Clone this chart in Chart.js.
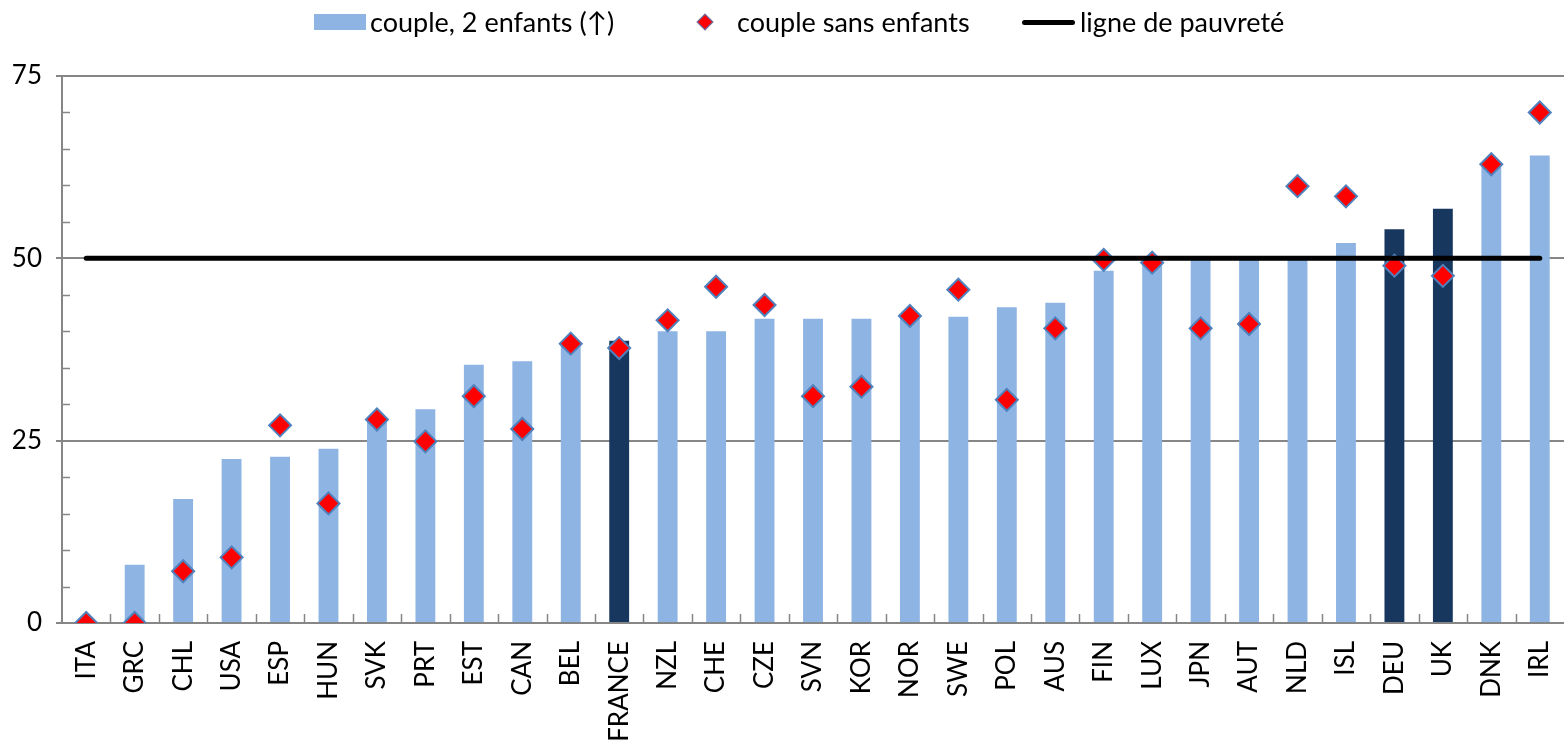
<!DOCTYPE html>
<html>
<head>
<meta charset="utf-8">
<script src="https://cdn.jsdelivr.net/npm/chart.js@4"></script>
<style>
  html, body { margin: 0; padding: 0; background: #fff; }
  #wrap { position: relative; width: 1564px; height: 749px; }
  #legend { position: absolute; top: 0; left: 0; width: 1564px; height: 50px; font-family: Lato, sans-serif; font-size: 27px; color: #000; }
  #legend .item { position: absolute; top: 6px; line-height: 32px; white-space: nowrap; }
  .box { position: absolute; width: 52px; height: 16px; background: #8EB4E3; top: 14px; }
  .dia { position: absolute; width: 10px; height: 10px; background: #FF0000; border: 1.5px solid #4F81BD; transform: rotate(45deg); top: 16px; }
  .ln { position: absolute; width: 53px; height: 5px; background: #000; border-radius: 3px; top: 20px; }
</style>
</head>
<body>
<div id="wrap">
  <canvas id="chart" width="1564" height="749"></canvas>
  <div id="legend">
    <span class="box" style="left:314px"></span>
    <span class="item" style="left:370px">couple, 2 enfants (↑)</span>
    <span class="dia" style="left:699px"></span>
    <span class="item" style="left:737px">couple sans enfants</span>
    <span class="ln" style="left:1022px"></span>
    <span class="item" style="left:1080px">ligne de pauvreté</span>
  </div>
</div>
<script>
const countries = ['ITA', 'GRC', 'CHL', 'USA', 'ESP', 'HUN', 'SVK', 'PRT', 'EST', 'CAN', 'BEL', 'FRANCE', 'NZL', 'CHE', 'CZE', 'SVN', 'KOR', 'NOR', 'SWE', 'POL', 'AUS', 'FIN', 'LUX', 'JPN', 'AUT', 'NLD', 'ISL', 'DEU', 'UK', 'DNK', 'IRL'];
const coupleTwoKids = [0, 8, 17, 22.5, 22.8, 23.9, 28, 29.3, 35.4, 35.9, 38.5, 38.7, 40, 40, 41.7, 41.7, 41.7, 42.2, 42, 43.3, 43.9, 48.3, 49.5, 50, 50, 50, 52.1, 54, 56.8, 62.5, 64.1];
const coupleNoKids = [0, 0, 7.1, 9, 27.1, 16.4, 27.9, 24.9, 31.1, 26.6, 38.3, 37.7, 41.5, 46.1, 43.6, 31.1, 32.4, 42.1, 45.7, 30.6, 40.4, 49.8, 49.4, 40.4, 41, 59.9, 58.5, 49, 47.6, 62.9, 70];
const povertyLine = countries.map(() => 50);
const highlighted = ['FRANCE', 'DEU', 'UK'];
const yTicks = [0, 25, 50, 75];

// Excel style small ticks inside the plot
const innerTicks = {
  id: 'innerTicks',
  afterDraw(chart) {
    const { ctx, scales: { x, y }, chartArea } = chart;
    ctx.save();
    ctx.strokeStyle = '#868686';
    ctx.lineWidth = 1.5;
    ctx.beginPath();
    for (let v = 5; v < 75; v += 5) {
      if (v % 25 === 0) continue;
      const py = Math.round(y.getPixelForValue(v)) + 0.5;
      ctx.moveTo(chartArea.left, py);
      ctx.lineTo(chartArea.left + 8, py);
    }
    for (let i = 0; i < countries.length - 1; i++) {
      const px = Math.round((x.getPixelForValue(i) + x.getPixelForValue(i + 1)) / 2) + 0.5;
      ctx.moveTo(px, chartArea.bottom);
      ctx.lineTo(px, chartArea.bottom - 9);
    }
    ctx.stroke();
    ctx.restore();
  }
};

const ctx = document.getElementById('chart').getContext('2d');
new Chart(ctx, {
  data: {
    labels: countries,
    datasets: [
      { type: 'line', label: 'ligne de pauvreté', data: povertyLine, borderColor: '#000', borderWidth: 5, borderCapStyle: 'round', pointRadius: 0, order: 0 },
      { type: 'line', label: 'couple sans enfants', data: coupleNoKids, showLine: false, pointStyle: 'rectRot', pointRadius: 11, pointBackgroundColor: '#FF0000', pointBorderColor: '#4F81BD', pointBorderWidth: 2, order: 1 },
      { type: 'bar', label: 'couple, 2 enfants (↑)', data: coupleTwoKids, backgroundColor: countries.map(c => highlighted.includes(c) ? '#17375E' : '#8EB4E3'), barPercentage: 0.41, categoryPercentage: 1, order: 2 }
    ]
  },
  options: {
    responsive: false,
    animation: false,
    layout: { autoPadding: false, padding: { top: 76, right: 0, left: 0, bottom: 0 } },
    plugins: { legend: { display: false }, tooltip: { enabled: false } },
    scales: {
      x: {
        afterFit: s => { s.height = 126; s.paddingLeft = 0; s.paddingRight = 0; },
        grid: { display: true, drawOnChartArea: false, drawTicks: false, color: '#868686' },
        border: { color: '#868686', width: 2 },
        ticks: { minRotation: 90, maxRotation: 90, padding: 18, color: '#000', font: { family: 'Lato', size: 26 } }
      },
      y: {
        min: 0, max: 75,
        afterFit: s => { s.width = 62; s.paddingTop = 0; s.paddingBottom = 0; },
        afterBuildTicks: s => { s.ticks = yTicks.map(v => ({ value: v })); },
        grid: { color: '#868686', lineWidth: 2, tickLength: 6, tickColor: '#868686' },
        border: { color: '#868686', width: 2 },
        ticks: { padding: 14, color: '#000', font: { family: 'Lato', size: 26 } }
      }
    }
  },
  plugins: [innerTicks]
});
</script>
</body>
</html>
